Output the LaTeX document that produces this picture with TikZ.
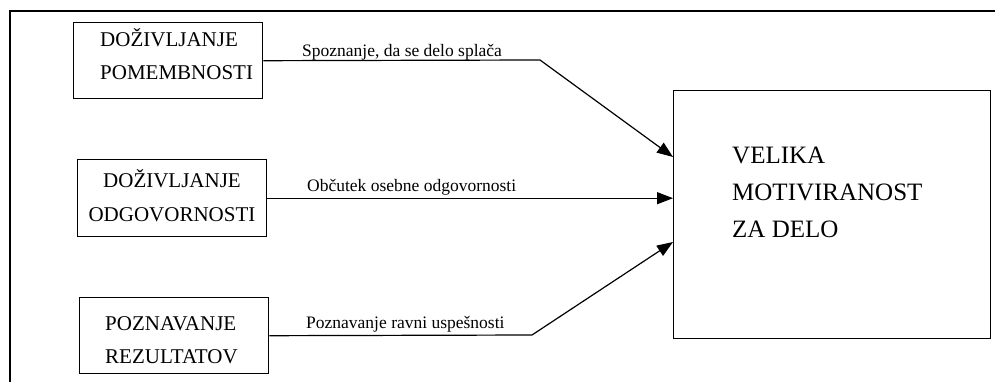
\documentclass[tikz,border=0pt]{standalone}
\usepackage{fontspec}
\setmainfont{Liberation Serif}
\usetikzlibrary{arrows.meta,calc}
\begin{document}
\begin{tikzpicture}[x=1pt,y=-1pt,
  frame/.style={line width=1.3pt},
  box/.style={draw,line width=1.4pt,inner sep=0pt,anchor=north west},
  boxtext/.style={font=\fontsize{21}{33}\selectfont,inner sep=0pt,anchor=base west},
  bigtext/.style={font=\fontsize{25}{37}\selectfont,inner sep=0pt,anchor=base west,align=left},
  lab/.style={font=\fontsize{17.5}{20}\selectfont,inner sep=0pt,anchor=base west},
  conn/.style={line width=1.2pt},
  arr/.style={conn,-{Triangle[length=16pt,width=12pt]}}]
\useasboundingbox (0,0) rectangle (995,382);
\draw[frame] (10,382) -- (10,11) -- (995,11);
% boxes
\node[box,minimum width=189pt,minimum height=76pt] (b1) at (73,22) {};
\node[box,minimum width=189pt,minimum height=77pt] (b2) at (77,159) {};
\node[box,minimum width=189pt,minimum height=76pt] (b3) at (79,297) {};
\node[box,minimum width=317pt,minimum height=248pt] (big) at (673,90) {};
% box texts (base anchor = baseline of last line)
\node[boxtext,align=left] (t1) at (100,80) {DOŽIVLJANJE\\POMEMBNOSTI};
\node[boxtext,align=center,anchor=base] (t2) at (172,221) {DOŽIVLJANJE\\ODGOVORNOSTI};
\node[boxtext,align=left] (t3) at (105,363) {POZNAVANJE\\REZULTATOV};
\node[bigtext] (tb) at (732,237) {VELIKA\\MOTIVIRANOST\\ZA DELO};
% labels
\node[lab] (l1) at (302,57) {Spoznanje, da se delo splača};
\node[lab] (l2) at (307,192) {Občutek osebne odgovornosti};
\node[lab] (l3) at (306,328) {Poznavanje ravni uspešnosti};
% connectors
\coordinate (k1) at (540,60);
\coordinate (k3) at (532,335);
\draw[arr] (b1.east) -- (k1) -- ($(big.north west)+(0,67)$);
\draw[arr] (b2.east) -- (b2.east -| big.west);
\draw[arr] (b3.east) -- (k3) -- ($(big.north west)+(0,152)$);
\end{tikzpicture}
\end{document}
